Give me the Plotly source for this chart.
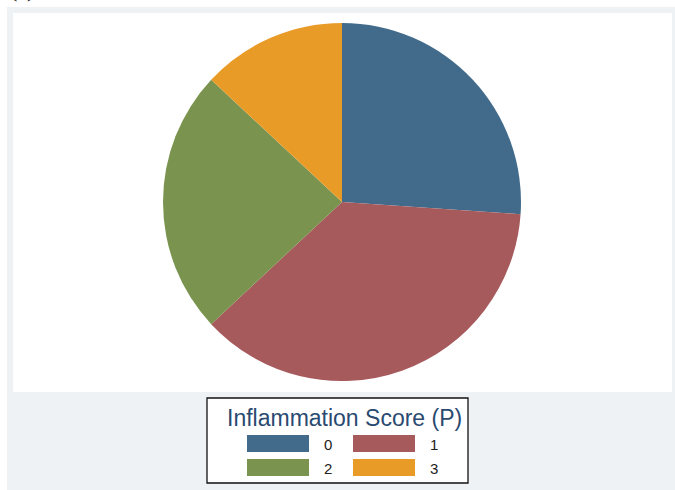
import plotly.graph_objects as go

# Inflammation score distribution (counts per score)
categories = ["0", "1", "2", "3"]
counts = [12, 17, 11, 6]
colors = ["#426b8b", "#a65a5c", "#7a944f", "#e99b28"]
legend_title = "Inflammation Score (P)"

W, H = 675, 490


def px(x):
    return x / W


def py(y):
    return 1 - y / H


fig = go.Figure()

# Pie centred at (342, 202) px with radius 179 px
cx, cy, r = 342, 202, 179
fig.add_trace(go.Pie(
    labels=categories,
    values=counts,
    marker=dict(colors=colors, line=dict(width=0)),
    sort=False,
    direction="clockwise",
    rotation=0,
    textinfo="none",
    hoverinfo="label+value+percent",
    showlegend=False,
    domain=dict(x=[px(cx - r), px(cx + r)], y=[py(cy + r), py(cy - r)]),
))

shapes = [
    # outer graph region
    dict(type="rect", xref="paper", yref="paper", layer="below",
         x0=px(7), x1=px(675), y0=py(490), y1=py(7),
         fillcolor="#eef2f5", line=dict(width=0)),
    # plot region
    dict(type="rect", xref="paper", yref="paper", layer="below",
         x0=px(13), x1=px(672), y0=py(392), y1=py(13),
         fillcolor="#ffffff", line=dict(width=0)),
    # legend frame
    dict(type="rect", xref="paper", yref="paper", layer="above",
         x0=px(207), x1=px(468), y0=py(483), y1=py(398),
         fillcolor="#ffffff", line=dict(color="#111111", width=1.3)),
]

annotations = [
    dict(text=legend_title, xref="paper", yref="paper",
         x=px(344), y=py(418), xanchor="center", yanchor="middle",
         showarrow=False, font=dict(family="Liberation Sans, Arial", size=23, color="#2a4a70")),
    dict(text="(c)", xref="paper", yref="paper",
         x=px(8), y=py(4), xanchor="left", yanchor="bottom",
         showarrow=False, font=dict(family="Liberation Serif", size=22, color="#111111")),
]

# Legend keys: two per row
for i, (cat, col) in enumerate(zip(categories, colors)):
    c, rw = i % 2, i // 2
    x0 = 247 + c * 106
    y0 = 435 + rw * 24
    shapes.append(dict(type="rect", xref="paper", yref="paper", layer="above",
                       x0=px(x0), x1=px(x0 + 62), y0=py(y0 + 17), y1=py(y0),
                       fillcolor=col, line=dict(width=0)))
    annotations.append(dict(text=cat, xref="paper", yref="paper",
                            x=px(x0 + 75), y=py(y0 + 9), xanchor="left", yanchor="middle",
                            showarrow=False,
                            font=dict(family="Liberation Sans, Arial", size=15, color="#222222")))

fig.update_layout(
    width=W, height=H,
    margin=dict(l=0, r=0, t=0, b=0),
    paper_bgcolor="#ffffff",
    plot_bgcolor="#ffffff",
    shapes=shapes,
    annotations=annotations,
)

fig.write_html("out.html")
